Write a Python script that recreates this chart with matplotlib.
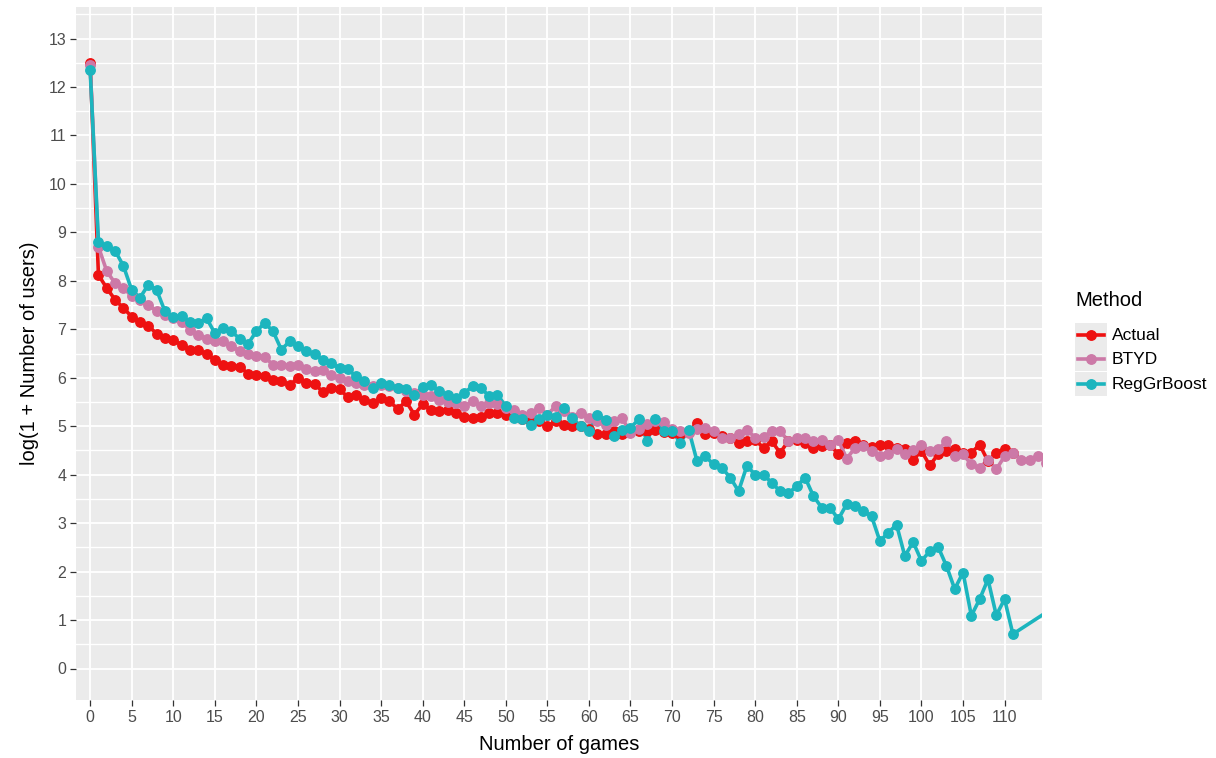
import numpy as np
import matplotlib.pyplot as plt
from matplotlib.lines import Line2D
from matplotlib.patches import Rectangle

plt.rcParams['font.family'] = ['Liberation Sans', 'DejaVu Sans']

# Data: log(1 + users) by number of games played
methods = ["Actual", "BTYD", "RegGrBoost"]
colors = ["#EE1111", "#CC79A7", "#1CB5BE"]

actual = [12.5, 8.12, 7.85, 7.61, 7.44, 7.26, 7.16, 7.07, 6.91, 6.82,
          6.77, 6.68, 6.58, 6.58, 6.48, 6.37, 6.27, 6.25, 6.23, 6.08,
          6.06, 6.04, 5.96, 5.94, 5.84, 6.0, 5.9, 5.88, 5.70, 5.79,
          5.76, 5.6, 5.65, 5.55, 5.48, 5.58, 5.51, 5.36, 5.51, 5.24,
          5.45, 5.34, 5.31, 5.34, 5.27, 5.2, 5.17, 5.2, 5.27, 5.27,
          5.24, 5.2, 5.15, 5.1, 5.1, 5.0, 5.1, 5.03, 5.0, 5.0,
          4.95, 4.83, 4.83, 4.9, 4.83, 4.88, 4.9, 4.9, 4.92, 4.88,
          4.85, 4.83, 4.88, 5.07, 4.83, 4.85, 4.8, 4.75, 4.66, 4.69,
          4.72, 4.55, 4.69, 4.45, 4.7, 4.72, 4.65, 4.55, 4.59, 4.62,
          4.42, 4.66, 4.69, 4.62, 4.58, 4.62, 4.62, 4.55, 4.52, 4.31,
          4.49, 4.19, 4.42, 4.49, 4.52, 4.45, 4.45, 4.62, 4.28, 4.45,
          4.52, 4.45]

btyd = [12.45, 8.7, 8.2, 7.95, 7.86, 7.68, 7.61, 7.51, 7.37, 7.3,
        7.23, 7.16, 6.99, 6.89, 6.8, 6.76, 6.76, 6.65, 6.55, 6.48,
        6.45, 6.42, 6.27, 6.27, 6.24, 6.27, 6.17, 6.13, 6.15, 6.05,
        6.0, 5.93, 5.9, 5.85, 5.82, 5.85, 5.82, 5.78, 5.72, 5.68,
        5.65, 5.62, 5.55, 5.5, 5.48, 5.41, 5.51, 5.41, 5.48, 5.45,
        5.38, 5.34, 5.24, 5.27, 5.38, 5.24, 5.41, 5.31, 5.2, 5.27,
        5.17, 5.1, 5.03, 5.1, 5.17, 4.86, 4.95, 5.05, 5.1, 5.08,
        4.95, 4.9, 4.85, 4.95, 4.97, 4.9, 4.76, 4.76, 4.83, 4.93,
        4.76, 4.78, 4.9, 4.9, 4.69, 4.76, 4.76, 4.7, 4.72, 4.62,
        4.72, 4.33, 4.55, 4.59, 4.49, 4.38, 4.42, 4.52, 4.42, 4.5,
        4.62, 4.48, 4.52, 4.69, 4.38, 4.42, 4.21, 4.14, 4.31, 4.11,
        4.38, 4.45, 4.31, 4.31, 4.38, 4.25]

reg_boost = [12.36, 8.81, 8.71, 8.62, 8.31, 7.81, 7.65, 7.92, 7.81, 7.37,
             7.25, 7.28, 7.15, 7.13, 7.23, 6.92, 7.03, 6.96, 6.8, 6.7,
             6.96, 7.13, 6.96, 6.58, 6.75, 6.65, 6.55, 6.48, 6.37, 6.3,
             6.2, 6.17, 6.03, 5.93, 5.79, 5.89, 5.84, 5.79, 5.76, 5.65,
             5.81, 5.86, 5.72, 5.65, 5.58, 5.69, 5.82, 5.79, 5.62, 5.65,
             5.41, 5.17, 5.14, 5.03, 5.14, 5.24, 5.2, 5.38, 5.17, 5.0,
             4.9, 5.24, 5.12, 4.79, 4.93, 4.97, 5.14, 4.69, 5.14, 4.9,
             4.9, 4.66, 4.93, 4.28, 4.38, 4.21, 4.14, 3.94, 3.66, 4.18,
             4.0, 4.0, 3.83, 3.66, 3.62, 3.76, 3.94, 3.56, 3.32, 3.32,
             3.08, 3.39, 3.35, 3.25, 3.14, 2.63, 2.8, 2.97, 2.32, 2.61,
             2.22, 2.42, 2.51, 2.12, 1.64, 1.98, 1.09, 1.43, 1.84, 1.1,
             1.43, 0.71]
# the boosted series runs on past the right edge of the panel
reg_boost_games = list(range(len(reg_boost))) + [118]
reg_boost = reg_boost + [1.49]

series = [
    (list(range(len(actual))), actual),
    (list(range(len(btyd))), btyd),
    (reg_boost_games, reg_boost),
]

W, H = 1216, 758
fig = plt.figure(figsize=(W / 100, H / 100), dpi=100)
ax = fig.add_axes([76 / W, 1 - 700 / H, (1042 - 76) / W, (700 - 7) / H])
ax.set_facecolor("#EBEBEB")
for s in ax.spines.values():
    s.set_visible(False)

# ggplot-like grid
ax.set_xticks(np.arange(0, 111, 5))
ax.set_yticks(np.arange(0, 14, 1))
ax.set_yticks(np.arange(0.5, 14, 1), minor=True)
ax.grid(True, which="major", color="white", lw=1.3)
ax.grid(True, which="minor", axis="y", color="white", lw=1.0)
ax.set_axisbelow(True)
ax.tick_params(which="major", length=4, width=0.9, color="#333333",
               labelcolor="#4D4D4D", labelsize=11.5, pad=3)
ax.tick_params(which="minor", length=0)

# lines first, then points on top (as geom_line + geom_point)
for (x, y), c in zip(series, colors):
    ax.plot(x, y, color=c, lw=2.6, solid_joinstyle="round", zorder=2)
for (x, y), c in zip(series, colors):
    ax.plot(x, y, ls="none", marker="o", ms=6.8, color=c, zorder=3)

ax.set_xlim(-1.7, 114.5)
ax.set_ylim(-0.65, 13.65)

ax.set_xlabel("Number of games", fontsize=14.5, va="center")
ax.xaxis.set_label_coords(0.5, (700 - 745) / (700 - 7))
ax.set_ylabel("log(1 + Number of users)", fontsize=14.5, va="center")
ax.yaxis.set_label_coords((30 - 76) / (1042 - 76), 0.5)

# legend, drawn by hand to get the grey key boxes
fig.text(1075 / W, 1 - 301 / H, "Method", fontsize=14.5, va="center", ha="left")
for i, (name, c) in enumerate(zip(methods, colors)):
    yc = 335 + i * 24.5
    fig.patches.append(Rectangle((1075 / W, 1 - (yc + 12) / H), 32 / W, 24 / H,
                                 transform=fig.transFigure, color="#EBEBEB",
                                 lw=0))
    fig.lines.append(Line2D([1078 / W, 1104 / W], [1 - yc / H] * 2,
                            transform=fig.transFigure, color=c, lw=2.6))
    fig.lines.append(Line2D([1091 / W], [1 - yc / H], transform=fig.transFigure,
                            color=c, marker="o", ms=6.8))
    fig.text(1112 / W, 1 - yc / H, name, fontsize=12.5, va="center", ha="left")

fig.savefig("out.png", dpi=100)
